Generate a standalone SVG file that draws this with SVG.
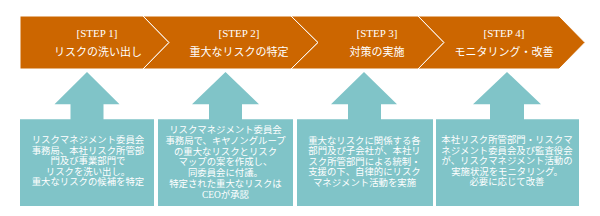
<svg xmlns="http://www.w3.org/2000/svg" width="600" height="216" viewBox="0 0 600 216">
<style>
.chev{fill:#CC6600;stroke:#FFFFFF;stroke-width:1;stroke-linejoin:miter}
.box{fill:#80C4C8;stroke:none}
.st{font-family:"Liberation Serif","Noto Sans CJK JP",serif;font-size:11px;fill:#FFFFFF;text-anchor:middle}
.jt{font-family:"Liberation Serif","Noto Sans CJK JP",sans-serif;font-size:11px;fill:#FFFFFF;text-anchor:middle}
.bt{font-family:"Liberation Serif","Noto Sans CJK JP",sans-serif;font-size:9.4px;fill:#FFFFFF;text-anchor:middle}
</style>
<rect width="600" height="216" fill="#FFFFFF"/>
<g id="step1">
<polygon class="chev" points="20,16 143,16 169,42.5 143,69 20,69"/>
<text class="st" x="97" y="37">[STEP 1]</text>
<text class="jt" x="98" y="56">リスクの洗い出し</text>
</g>
<g id="step2">
<polygon class="chev" points="143,16 291,16 318,42.5 291,69 143,69 169,42.5"/>
<text class="st" x="239" y="37">[STEP 2]</text>
<text class="jt" x="239" y="56">重大なリスクの特定</text>
</g>
<g id="step3">
<polygon class="chev" points="291,16 418,16 444,42.5 418,69 291,69 318,42.5"/>
<text class="st" x="377" y="37">[STEP 3]</text>
<text class="jt" x="377" y="56">対策の実施</text>
</g>
<g id="step4">
<polygon class="chev" points="418,16 559,16 585,42.5 559,69 418,69 444,42.5"/>
<text class="st" x="504" y="37">[STEP 4]</text>
<text class="jt" x="504" y="56">モニタリング・改善</text>
</g>
<g id="connectors"></g>
<g id="detail1">
<path class="box" d="M87,72 L119.5,104.3 L103.5,104.3 L103.5,119.3 L154,119.3 L154,206 L20,206 L20,119.3 L70.5,119.3 L70.5,104.3 L54.5,104.3 Z"/>
<text class="bt" x="88" y="143.4">リスクマネジメント委員会</text>
<text class="bt" x="88" y="153.9">事務局、本社リスク所管部</text>
<text class="bt" x="88" y="164.4">門及び事業部門で</text>
<text class="bt" x="88" y="174.9">リスクを洗い出し。</text>
<text class="bt" x="88" y="185.4">重大なリスクの候補を特定</text>
</g>
<g id="detail2">
<path class="box" d="M225.5,72 L259,104.3 L242,104.3 L242,119.3 L293,119.3 L293,206 L158,206 L158,119.3 L209,119.3 L209,104.3 L192,104.3 Z"/>
<text class="bt" x="225.5" y="133">リスクマネジメント委員会</text>
<text class="bt" x="225.5" y="143.8">事務局で、キヤノングループ</text>
<text class="bt" x="225.5" y="154.6">の重大なリスクとリスク</text>
<text class="bt" x="225.5" y="165.4">マップの案を作成し、</text>
<text class="bt" x="225.5" y="176.2">同委員会に付議。</text>
<text class="bt" x="225.5" y="187">特定された重大なリスクは</text>
<text class="bt" x="225.5" y="197.8">CEOが承認</text>
</g>
<g id="detail3">
<path class="box" d="M364,72 L397,104.3 L381,104.3 L381,119.3 L433,119.3 L433,206 L297,206 L297,119.3 L348,119.3 L348,104.3 L331,104.3 Z"/>
<text class="bt" x="364.5" y="143.9">重大なリスクに関係する各</text>
<text class="bt" x="364.5" y="154.4">部門及び子会社が、本社リ</text>
<text class="bt" x="364.5" y="164.9">スク所管部門による統制・</text>
<text class="bt" x="364.5" y="175.4">支援の下、自律的にリスク</text>
<text class="bt" x="364.5" y="185.9">マネジメント活動を実施</text>
</g>
<g id="detail4">
<path class="box" d="M507,72 L541,104.3 L524,104.3 L524,119.3 L579,119.3 L579,206 L436,206 L436,119.3 L490,119.3 L490,104.3 L473,104.3 Z"/>
<text class="bt" x="507" y="143.4">本社リスク所管部門・リスクマ</text>
<text class="bt" x="507" y="153.9">ネジメント委員会及び監査役会</text>
<text class="bt" x="507" y="164.4">が、リスクマネジメント活動の</text>
<text class="bt" x="507" y="174.9">実施状況をモニタリング。</text>
<text class="bt" x="507" y="185.4">必要に応じて改善</text>
</g>
</svg>
